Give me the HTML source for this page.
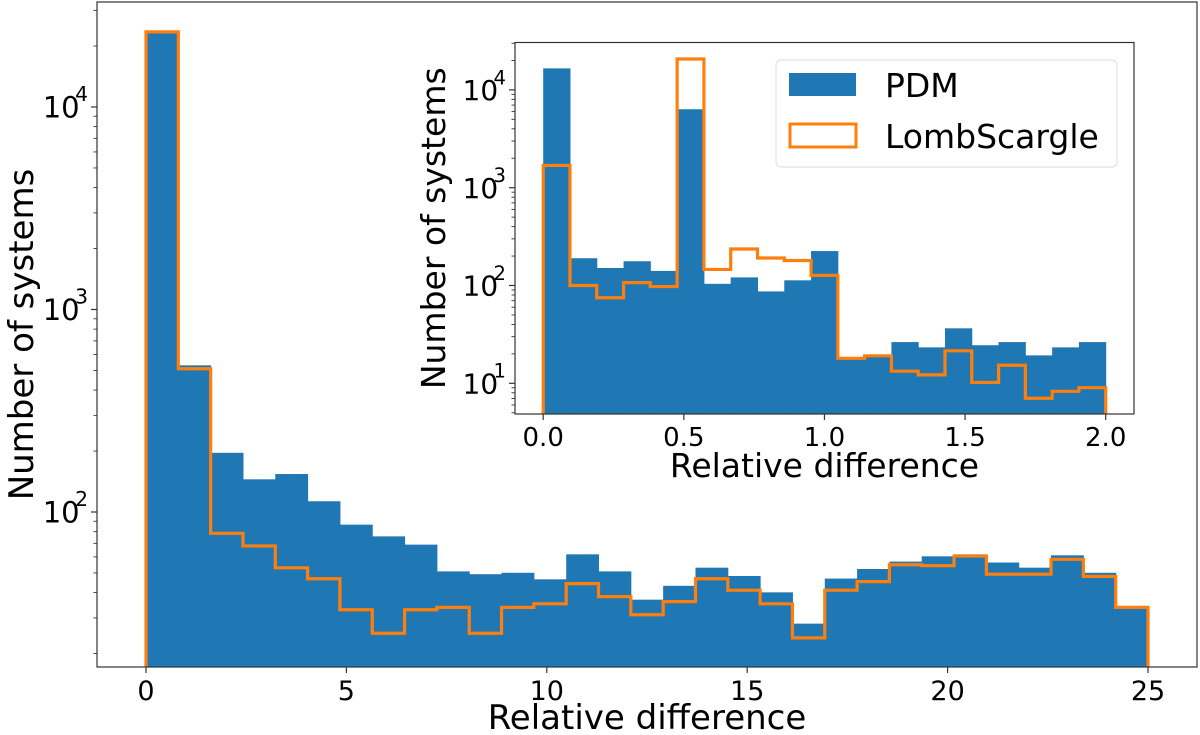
<!DOCTYPE html>
<html><head><meta charset="utf-8"><style>
html,body{margin:0;padding:0;background:#fff;}
svg{display:block;font-family:"DejaVu Sans","Liberation Sans",sans-serif;}
</style></head><body>
<svg id="chart" width="1200" height="735" viewBox="0 0 1200 735" xmlns="http://www.w3.org/2000/svg"></svg>
<script>
// Main histogram data (31 bins over 0..25)
const mainBinCount = 31;
const mainRange = [0, 25];
const mainPDM = [23500,530,196,145,154,113,86.6,75.8,69,50.9,49.3,50.1,46.5,61.8,50.9,36.9,43.2,53.1,48.3,40.1,28.1,46.9,52.3,56.9,60.4,61.8,56.3,53.1,61.1,50.1,34];
const mainLS = [23500,510,78.5,68,53,46.8,32.9,25.2,32.9,33.8,25.2,33.8,35.2,44.3,38.2,31.1,36.1,46.8,41.1,35.2,23.9,41.1,45.3,54.9,54.3,60.6,49.3,49.3,58.4,48.1,33.8];
const mainXTicks = [0,5,10,15,20,25];
const mainYTicks = [2,3,4];
// Inset histogram data (21 bins over 0..2)
const insetBinCount = 21;
const insetRange = [0, 2];
const insetPDM = [16600,190,151,177,141,6340,104,121,87,113,225,18.3,19.3,26.4,23.3,36.5,24.5,26.4,19.3,23.3,26.4];
const insetLS = [1690,100,75,107,97.5,20700,146,236,191,180,127,18,19.1,13.3,12.2,21.5,10.2,15.3,7.03,8.28,9.02];
const insetXTicks = ["0.0","0.5","1.0","1.5","2.0"];
const insetYTicks = [1,2,3,4];

const NS="http://www.w3.org/2000/svg";
const svg=document.getElementById('chart');
function mk(tag,attrs,parent){const e=document.createElementNS(NS,tag);for(const k in attrs)e.setAttribute(k,attrs[k]);(parent||svg).appendChild(e);return e;}

function drawPanel(cfg){
  const g=mk('g',{});
  
  
  const xs=v=>cfg.px0+(v-cfg.xr[0])/(cfg.xr[1]-cfg.xr[0])*(cfg.px1-cfg.px0);
  const ys=v=>cfg.y0dec-(Math.log10(v)-cfg.dec0)*cfg.decPx;
  mk('rect',{x:cfg.fx0,y:cfg.fy0,width:cfg.fx1-cfg.fx0,height:cfg.fy1-cfg.fy0,fill:'#fff'},g);
  const w=(cfg.xr[1]-cfg.xr[0])/cfg.n;
  const bg=mk('g',{},g);
  
  
  cfg.pdm.forEach((v,i)=>{
    const x0=xs(cfg.xr[0]+i*w),x1=xs(cfg.xr[0]+(i+1)*w),y=ys(v);
    const r=mk('rect',{x:x0,y:y,width:x1-x0+0.5,height:cfg.fy1-y,fill:'#1f77b4'},bg);
    
    
  });
  let d='M'+xs(cfg.xr[0])+','+cfg.fy1;
  cfg.ls.forEach((v,i)=>{const y=ys(v);d+=' L'+xs(cfg.xr[0]+i*w)+','+y+' L'+xs(cfg.xr[0]+(i+1)*w)+','+y;});
  d+=' L'+xs(cfg.xr[1])+','+cfg.fy1;
  const p=mk('path',{d:d,fill:'none',stroke:'#ff7f0e','stroke-width':3.2,'stroke-linejoin':'miter'},g);
  
  
  mk('rect',{x:cfg.fx0,y:cfg.fy0,width:cfg.fx1-cfg.fx0,height:cfg.fy1-cfg.fy0,fill:'none',stroke:'#333','stroke-width':1.2},g);
  cfg.xt.forEach(t=>{
    const x=xs(parseFloat(t));
    mk('line',{x1:x,x2:x,y1:cfg.fy1,y2:cfg.fy1+6,stroke:'#333','stroke-width':1.2},g);
    const tx=mk('text',{x:x,y:cfg.fy1+cfg.tfs+6,'text-anchor':'middle','font-size':cfg.tfs,fill:'#000'},g);
    tx.textContent=t;
    
    
  });
  for(let dec=Math.floor(cfg.dec0-2);dec<=cfg.dec0+5;dec++){
    for(let m=1;m<10;m++){
      const v=m*Math.pow(10,dec);const y=ys(v);
      if(y<cfg.fy0||y>cfg.fy1)continue;
      mk('line',{x1:cfg.fx0-(m===1?6:3.5),x2:cfg.fx0,y1:y,y2:y,stroke:'#333','stroke-width':m===1?1.2:0.9},g);
    }
  }
  cfg.yt.forEach(e=>{
    const y=ys(Math.pow(10,e));
    const tx=mk('text',{x:cfg.fx0-cfg.yfs*0.6,y:y+cfg.yfs*0.36,'text-anchor':'end','font-size':cfg.yfs,fill:'#000'},g);
    tx.textContent='10';
    
    
    const s=mk('text',{x:cfg.fx0-9,y:y-cfg.yfs*0.2,'text-anchor':'end','font-size':cfg.yfs*0.7,fill:'#000'},g);
    s.textContent=String(e);
  });
  const xl=mk('text',{x:(cfg.fx0+cfg.fx1)/2,y:cfg.xlY,'text-anchor':'middle','font-size':cfg.lfs,fill:'#000'},g);
  xl.textContent='Relative difference';
  
  
  const yl=mk('text',{x:0,y:0,'text-anchor':'middle','font-size':cfg.lfs,fill:'#000',transform:'translate('+cfg.ylX+','+((cfg.fy0+cfg.fy1)/2)+') rotate(-90)'},g);
  yl.textContent='Number of systems';
  
  
}

drawPanel({name:'main-histogram',n:mainBinCount,xr:mainRange,pdm:mainPDM,ls:mainLS,
  px0:146,px1:1148,fx0:97,fx1:1197,fy0:2,fy1:667,y0dec:512,dec0:2,decPx:202.5,
  xt:mainXTicks.map(String),yt:mainYTicks,tfs:27,yfs:29,lfs:34,xlY:729,ylX:33});
drawPanel({name:'inset-histogram',n:insetBinCount,xr:insetRange,pdm:insetPDM,ls:insetLS,
  px0:543.2,px1:1105.7,fx0:515,fx1:1134,fy0:42.5,fy1:414,y0dec:383.3,dec0:1,decPx:97.8,
  xt:insetXTicks,yt:insetYTicks,tfs:26,yfs:28,lfs:33,xlY:477,ylX:445});

const lg=mk('g',{});


mk('rect',{x:776,y:60,width:341,height:107,rx:5,fill:'#fff','fill-opacity':0.8,stroke:'#ddd','stroke-width':1},lg);
const e1=mk('rect',{x:789,y:73,width:67,height:23,fill:'#1f77b4'},lg);


const t1=mk('text',{x:885,y:97,'font-size':33,fill:'#000'},lg);t1.textContent='PDM';


const e2=mk('rect',{x:790,y:124,width:66,height:23,fill:'none',stroke:'#ff7f0e','stroke-width':3},lg);


const t2=mk('text',{x:885,y:148,'font-size':33,fill:'#000'},lg);t2.textContent='LombScargle';


</script>
</body></html>
